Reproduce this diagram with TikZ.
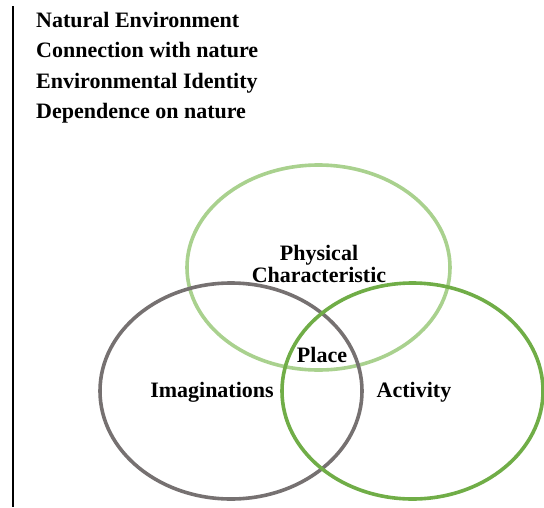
\documentclass[tikz,border=0pt]{standalone}
\usepackage{fontspec}
\setmainfont{Liberation Serif}
\usetikzlibrary{positioning, shapes.geometric}

\definecolor{physgreen}{HTML}{A9D18E}
\definecolor{imggray}{HTML}{767171}
\definecolor{actgreen}{HTML}{70AD47}

\begin{document}
\begin{tikzpicture}[x=1pt, y=-1pt,
    ring/.style={ellipse, draw, line width=3.6pt, inner sep=0pt},
    word/.style={font=\fontsize{22}{22}\selectfont\bfseries, inner sep=0pt, anchor=base}]
    \useasboundingbox (0,0) rectangle (544,507);
    \coordinate (bartop) at (13,6);
    \coordinate (barbot) at (13,507);
    \draw[line width=1.8pt] (bartop) -- (barbot);

    \node[word, anchor=base west] (nat) at (36,27) {Natural Environment};
    \node[word, anchor=base west] (conn) at ([yshift=-30.5pt]nat.base west) {Connection with nature};
    \node[word, anchor=base west] (ident) at ([yshift=-30.5pt]conn.base west) {Environmental Identity};
    \node[word, anchor=base west] (dep) at ([yshift=-30.5pt]ident.base west) {Dependence on nature};

    \node[ring, draw=physgreen, minimum width=263pt, minimum height=205pt] (phys) at (318.5,267.5) {};
    \node[ring, draw=imggray, minimum width=262pt, minimum height=216pt] (img) at (231,391) {};
    \node[ring, draw=actgreen, minimum width=261pt, minimum height=216pt] (act) at (412.5,391) {};

    \node[word] (physlbl) at (319,260) {Physical};
    \node[word] (charlbl) at ([yshift=-22pt]physlbl.base) {Characteristic};
    \node[word] (place) at (322,362) {Place};
    \node[word] (imglbl) at (212,397) {Imaginations};
    \node[word] (actlbl) at (414,397) {Activity};
\end{tikzpicture}
\end{document}
